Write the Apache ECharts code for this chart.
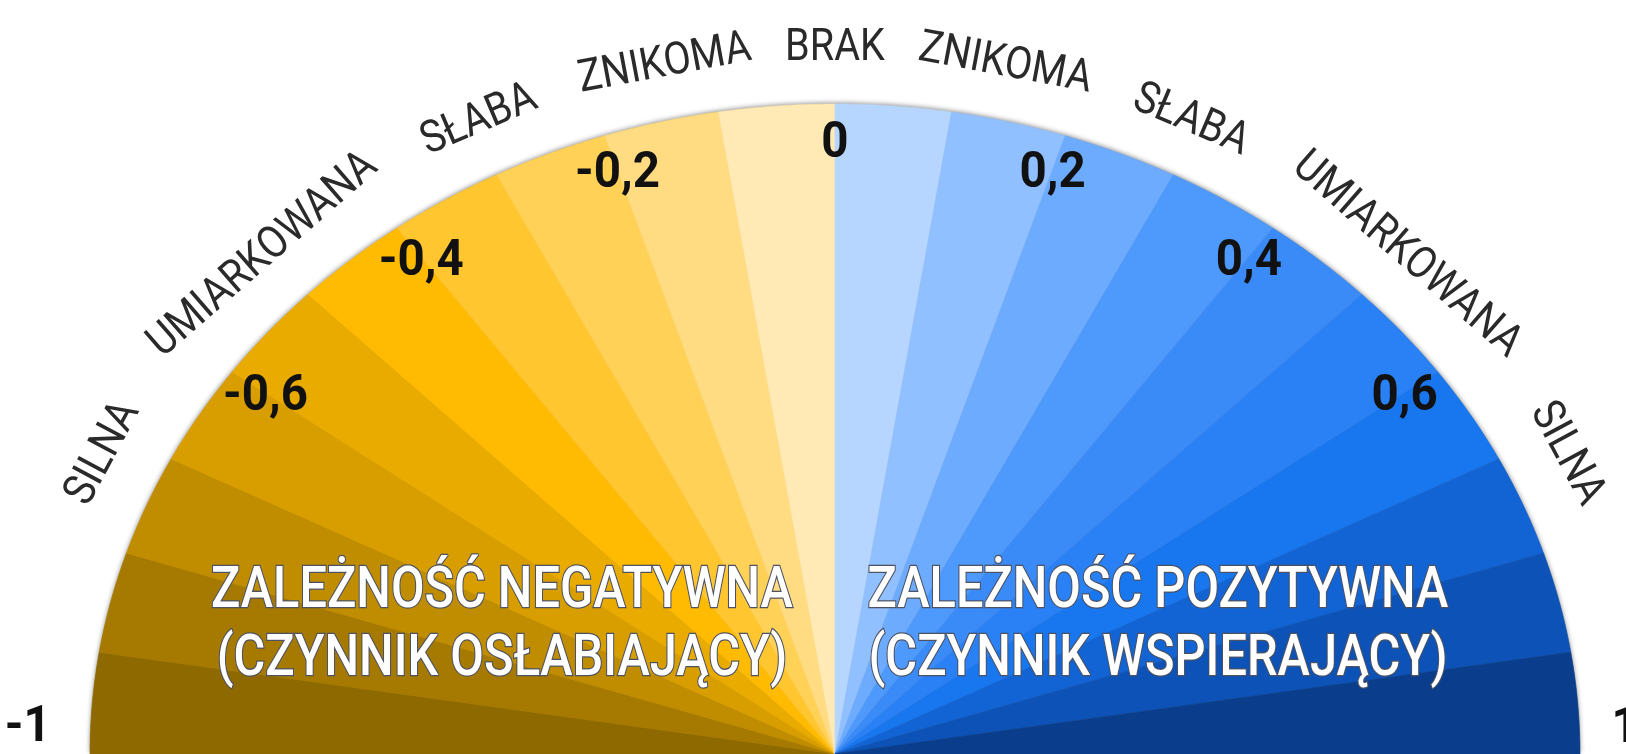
<!DOCTYPE html>
<html>
<head>
<meta charset="utf-8">
<script src="https://cdn.jsdelivr.net/npm/echarts@6/dist/echarts.min.js"></script>
<style>
  html, body { margin: 0; padding: 0; background: #fff; }
  #chart { width: 1626px; height: 754px; }
</style>
</head>
<body>
<div id="chart"></div>
<script>
// sektory skali korelacji (poczatek kazdego przedzialu, szerokosc 0.1)
var sectorStart = [-1.0, -0.9, -0.8, -0.7, -0.6, -0.5, -0.4, -0.3, -0.2, -0.1,
                   0.0, 0.1, 0.2, 0.3, 0.4, 0.5, 0.6, 0.7, 0.8, 0.9];
var sectorColors = ['#8D6900', '#A67A00', '#C08D00', '#D89E00', '#E9AB00',
                    '#FFBA02', '#FFC630', '#FFD257', '#FFDB82', '#FFE9B5',
                    '#B7D6FF', '#90C0FF', '#6DABFF', '#4E99FC', '#3A8AF8',
                    '#2A80F5', '#1876EE', '#1263D4', '#0D52B6', '#0A3E8C'];

// opisy liczbowe
var tickValues = [-1, -0.6, -0.4, -0.2, 0, 0.2, 0.4, 0.6, 1];
var tickLabels = ['-1', '-0,6', '-0,4', '-0,2', '0', '0,2', '0,4', '0,6', '1'];

// sila zaleznosci
var levelValues = [-0.72, -0.5, -0.29, -0.135, 0, 0.135, 0.29, 0.5, 0.72];
var levelNames = ['SILNA', 'UMIARKOWANA', 'SŁABA', 'ZNIKOMA', 'BRAK',
                  'ZNIKOMA', 'SŁABA', 'UMIARKOWANA', 'SILNA'];

var groupTitles = ['ZALEŻNOŚĆ NEGATYWNA\n(CZYNNIK OSŁABIAJĄCY)',
                   'ZALEŻNOŚĆ POZYTYWNA\n(CZYNNIK WSPIERAJĄCY)'];

/*punkt na luku: c = wartosc korelacji, r = promien (1 = brzeg)*/
function arcPoint(api, c, r) {
  var a = c * Math.PI / 2;
  return api.coord([r * Math.sin(a), r * Math.cos(a)]);
}

// brak kroju "condensed" - zwezamy tekst przez scaleX
function titleText(x, text) {
  return {
    type: 'text', x: x, y: 626, z: 100, scaleX: 0.84,
    style: {
      text: text, align: 'center', verticalAlign: 'middle',
      font: '500 58px Roboto, sans-serif', lineHeight: 68, fill: '#fff',
      stroke: '#4c5262', lineWidth: 2.5,
      shadowColor: 'rgba(0,0,0,0.45)', shadowBlur: 4
    }
  };
}

var chart = echarts.init(document.getElementById('chart'));

var option = {
  animation: false,
  backgroundColor: '#fff',
  grid: { left: 90, right: 46, top: 104, bottom: 0 },
  xAxis: { type: 'value', min: -1, max: 1, show: false },
  yAxis: { type: 'value', min: 0, max: 1, show: false },
  graphic: [
    titleText(502, groupTitles[0]),
    titleText(1158, groupTitles[1])
  ],
  series: [
    {
      // tlo z cieniem wzdluz luku
      type: 'custom',
      silent: true,
      data: [[-1, 1]],
      renderItem: function (params, api) {
        var pts = [];
        for (var i = 0; i <= 180; i++) {
          pts.push(arcPoint(api, -1 + i / 90, 1));
        }
        return {
          type: 'polygon',
          shape: { points: pts },
          style: { fill: '#c9a04a', shadowBlur: 5, shadowColor: 'rgba(0,0,0,0.45)', shadowOffsetY: -1 }
        };
      }
    },
    {
      type: 'custom',
      silent: true,
      data: sectorStart.map(function (s) { return [s, +(s + 0.1).toFixed(1)]; }),
      renderItem: function (params, api) {
        var lo = api.value(0), hi = api.value(1);
        var pts = [api.coord([0, 0])];
        for (var i = 0; i <= 16; i++) {
          pts.push(arcPoint(api, lo + (hi - lo) * i / 16, 1));
        }
        var col = sectorColors[params.dataIndex];
        return {
          type: 'polygon',
          shape: { points: pts },
          style: { fill: col, stroke: col, lineWidth: 0.6 }
        };
      }
    },
    {
      type: 'custom',
      silent: true,
      z: 5,
      data: tickValues.map(function (v) { return [v, 0]; }),
      renderItem: function (params, api) {
        var v = api.value(0);
        var p;
        if (Math.abs(v) === 1) {
          p = arcPoint(api, v * 0.968, v < 0 ? 1.085 : 1.062);
          p = [p[0], p[1] + 10];
        } else {
          p = arcPoint(api, v, 0.945);
          p = [p[0], p[1] + 5];
        }
        return {
          type: 'text',
          x: p[0], y: p[1], scaleX: 0.95,
          style: {
            text: tickLabels[params.dataIndex],
            align: 'center', verticalAlign: 'middle',
            font: 'bold 50px Roboto, sans-serif', fill: '#111'
          }
        };
      }
    },
    {
      type: 'custom',
      silent: true,
      z: 5,
      data: levelValues.map(function (v) { return [v, 0]; }),
      renderItem: function (params, api) {
        var v = api.value(0);
        var p = arcPoint(api, v, 1.085);
        var p1 = arcPoint(api, v - 0.01, 1.085);
        var p2 = arcPoint(api, v + 0.01, 1.085);
        var rot = Math.atan2(-(p2[1] - p1[1]), p2[0] - p1[0]);
        return {
          type: 'text',
          x: p[0], y: p[1], rotation: rot, scaleX: 0.88,
          style: {
            text: levelNames[params.dataIndex],
            align: 'center', verticalAlign: 'middle',
            font: '45px Roboto, sans-serif', fill: '#2a2a2a',
            shadowColor: 'rgba(0,0,0,0.35)', shadowBlur: 3, shadowOffsetX: 1, shadowOffsetY: 2
          }
        };
      }
    }
  ]
};
chart.setOption(option);
</script>
</body>
</html>
